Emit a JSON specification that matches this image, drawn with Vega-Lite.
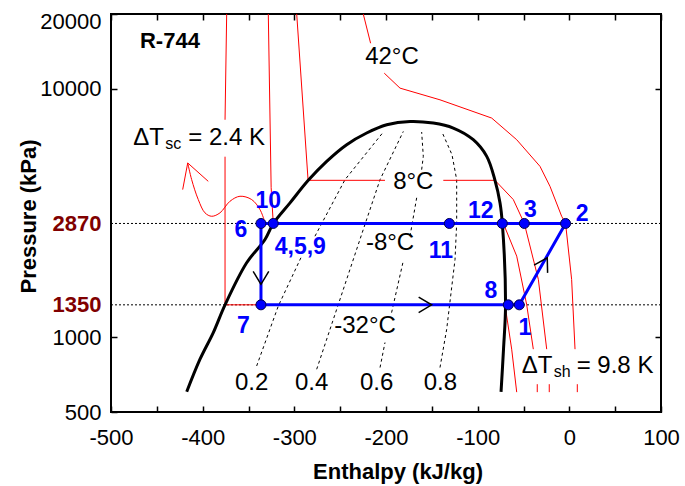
{
  "$schema": "https://vega.github.io/schema/vega-lite/v6.json",
  "width": 550,
  "height": 398,
  "autosize": {"type": "none"},
  "padding": {"left": 111, "top": 14, "right": 24, "bottom": 74},
  "background": "white",
  "config": {
    "font": "Liberation Sans",
    "view": {"stroke": "black", "strokeWidth": 2},
    "axis": {"grid": false, "domain": false}
  },
  "resolve": {"axis": {"x": "independent", "y": "independent"}},
  "datasets": {
    "refs": [{"P": 2870}, {"P": 1350}],
    "quality": [
      {"seg": "x02a", "o": 1, "h": -341.1, "P": 766},
      {"seg": "x02a", "o": 2, "h": -317.5, "P": 1335},
      {"seg": "x02a", "o": 3, "h": -292.0, "P": 2120},
      {"seg": "x02b", "o": 1, "h": -277.5, "P": 2550},
      {"seg": "x02b", "o": 2, "h": -244.7, "P": 4308},
      {"seg": "x02b", "o": 3, "h": -202.9, "P": 6698},
      {"seg": "x04", "o": 1, "h": -275.6, "P": 743},
      {"seg": "x04", "o": 2, "h": -253.8, "P": 1295},
      {"seg": "x04", "o": 3, "h": -224.8, "P": 2713},
      {"seg": "x04", "o": 4, "h": -206.5, "P": 4308},
      {"seg": "x04", "o": 5, "h": -181.1, "P": 6735},
      {"seg": "x06a", "o": 1, "h": -206.5, "P": 755},
      {"seg": "x06a", "o": 2, "h": -201.1, "P": 952},
      {"seg": "x06b", "o": 1, "h": -193.9, "P": 1256},
      {"seg": "x06b", "o": 2, "h": -181.2, "P": 2024},
      {"seg": "x06c", "o": 1, "h": -173.8, "P": 2550},
      {"seg": "x06c", "o": 2, "h": -166.5, "P": 3648},
      {"seg": "x06d", "o": 1, "h": -161.1, "P": 4726},
      {"seg": "x06d", "o": 2, "h": -159.3, "P": 5344},
      {"seg": "x06d", "o": 3, "h": -161.1, "P": 6698},
      {"seg": "x08", "o": 1, "h": -141.1, "P": 755},
      {"seg": "x08", "o": 2, "h": -133.8, "P": 1076},
      {"seg": "x08", "o": 3, "h": -124.7, "P": 2056},
      {"seg": "x08", "o": 4, "h": -122.9, "P": 2870},
      {"seg": "x08", "o": 5, "h": -122.9, "P": 4308},
      {"seg": "x08", "o": 6, "h": -128.0, "P": 5428},
      {"seg": "x08", "o": 7, "h": -139.2, "P": 6735}
    ],
    "iso": [
      {"seg": "m32a", "o": 1, "h": -373.8, "P": 20000},
      {"seg": "m32a", "o": 2, "h": -375.6, "P": 7505},
      {"seg": "m32b", "o": 1, "h": -375.6, "P": 5329},
      {"seg": "m32b", "o": 2, "h": -375.6, "P": 1350},
      {"seg": "m32b", "o": 3, "h": -70.2, "P": 1350},
      {"seg": "m32b", "o": 4, "h": -62.9, "P": 895},
      {"seg": "m32b", "o": 5, "h": -57.4, "P": 601},
      {"seg": "m8a", "o": 1, "h": -328.4, "P": 20000},
      {"seg": "m8a", "o": 2, "h": -325.3, "P": 4000},
      {"seg": "m8a", "o": 3, "h": -323.0, "P": 2870},
      {"seg": "m8a", "o": 4, "h": -72.0, "P": 2870},
      {"seg": "m8a", "o": 5, "h": -57.4, "P": 2120},
      {"seg": "m8a", "o": 6, "h": -46.5, "P": 1350},
      {"seg": "m8a", "o": 7, "h": -39.3, "P": 895},
      {"seg": "m8b", "o": 1, "h": -35.0, "P": 647},
      {"seg": "m8b", "o": 2, "h": -35.0, "P": 601},
      {"seg": "p8a", "o": 1, "h": -297.4, "P": 20000},
      {"seg": "p8a", "o": 2, "h": -285.0, "P": 4281},
      {"seg": "p8a", "o": 3, "h": -201.1, "P": 4281},
      {"seg": "p8b", "o": 1, "h": -137.5, "P": 4281},
      {"seg": "p8b", "o": 2, "h": -81.1, "P": 4281},
      {"seg": "p8b", "o": 3, "h": -61.1, "P": 3581},
      {"seg": "p8b", "o": 4, "h": -49.1, "P": 2870},
      {"seg": "p8b", "o": 5, "h": -33.8, "P": 1709},
      {"seg": "p8b", "o": 6, "h": -24.7, "P": 895},
      {"seg": "p8c", "o": 1, "h": -21.9, "P": 647},
      {"seg": "p8c", "o": 2, "h": -21.9, "P": 601},
      {"seg": "p42a", "o": 1, "h": -224.8, "P": 20000},
      {"seg": "p42a", "o": 2, "h": -216.8, "P": 15252},
      {"seg": "p42b", "o": 1, "h": -201.9, "P": 11558},
      {"seg": "p42b", "o": 2, "h": -184.7, "P": 10060},
      {"seg": "p42b", "o": 3, "h": -141.1, "P": 9028},
      {"seg": "p42b", "o": 4, "h": -84.7, "P": 7623},
      {"seg": "p42b", "o": 5, "h": -57.4, "P": 6237},
      {"seg": "p42b", "o": 6, "h": -32.0, "P": 4872},
      {"seg": "p42b", "o": 7, "h": -21.1, "P": 4049},
      {"seg": "p42b", "o": 8, "h": -8.4, "P": 3069},
      {"seg": "p42b", "o": 9, "h": -4.1, "P": 2870},
      {"seg": "p42b", "o": 10, "h": 2.5, "P": 1709},
      {"seg": "p42b", "o": 11, "h": 6.2, "P": 895},
      {"seg": "p42c", "o": 1, "h": 8.7, "P": 647},
      {"seg": "p42c", "o": 2, "h": 8.7, "P": 601},
      {"seg": "head", "o": 1, "h": -421.8, "P": 3928},
      {"seg": "head", "o": 2, "h": -416.3, "P": 5028},
      {"seg": "head", "o": 3, "h": -393.9, "P": 4241}
    ],
    "scurve": [
      {"o": 1, "h": -416.3, "P": 5028},
      {"o": 2, "h": -412.0, "P": 4308},
      {"o": 3, "h": -404.8, "P": 3581},
      {"o": 4, "h": -397.5, "P": 3167},
      {"o": 5, "h": -390.1, "P": 3068},
      {"o": 6, "h": -381.1, "P": 3167},
      {"o": 7, "h": -370.2, "P": 3526},
      {"o": 8, "h": -359.3, "P": 3693},
      {"o": 9, "h": -346.5, "P": 3581},
      {"o": 10, "h": -337.5, "P": 3265},
      {"o": 11, "h": -333.1, "P": 2977}
    ],
    "dome": [
      {"o": 1, "h": -417.4, "P": 603},
      {"o": 2, "h": -402.9, "P": 815.5},
      {"o": 3, "h": -388.4, "P": 1044},
      {"o": 4, "h": -375.6, "P": 1350},
      {"o": 5, "h": -352.0, "P": 1994},
      {"o": 6, "h": -332.0, "P": 2474},
      {"o": 7, "h": -322.9, "P": 2870},
      {"o": 8, "h": -304.7, "P": 3473},
      {"o": 9, "h": -284.8, "P": 4281},
      {"o": 10, "h": -264.7, "P": 5103},
      {"o": 11, "h": -242.9, "P": 5956},
      {"o": 12, "h": -221.1, "P": 6636},
      {"o": 13, "h": -199.2, "P": 7164},
      {"o": 14, "h": -173.8, "P": 7388},
      {"o": 15, "h": -148.4, "P": 7278},
      {"o": 16, "h": -126.6, "P": 6950},
      {"o": 17, "h": -104.8, "P": 6237},
      {"o": 18, "h": -90.1, "P": 5344},
      {"o": 19, "h": -81.1, "P": 4281},
      {"o": 20, "h": -75.6, "P": 3473},
      {"o": 21, "h": -73.1, "P": 2870},
      {"o": 22, "h": -69.6, "P": 1350},
      {"o": 23, "h": -71.8, "P": 895},
      {"o": 24, "h": -74.5, "P": 603}
    ],
    "cycle": [
      {"o": 1, "h": -4.1, "P": 2870},
      {"o": 2, "h": -336.4, "P": 2870},
      {"o": 3, "h": -336.4, "P": 1350},
      {"o": 4, "h": -54.6, "P": 1350},
      {"o": 5, "h": -4.1, "P": 2870}
    ],
    "points": [
      {"id": "6", "h": -336.4, "P": 2870},
      {"id": "10", "h": -323.0, "P": 2870},
      {"id": "11", "h": -130.9, "P": 2870},
      {"id": "12", "h": -73.1, "P": 2870},
      {"id": "3", "h": -49.1, "P": 2870},
      {"id": "2", "h": -4.1, "P": 2870},
      {"id": "7", "h": -336.4, "P": 1350},
      {"id": "8", "h": -66.6, "P": 1350},
      {"id": "1", "h": -54.6, "P": 1350}
    ],
    "arrows": [
      {"dir": "down", "h": -336.4, "P": 1632},
      {"dir": "right", "h": -150.2, "P": 1350},
      {"dir": "up", "h": -24.1, "P": 2089}
    ],
    "bluelabels": [
      {"t": "10", "h": -328.4, "P": 3526},
      {"t": "6", "h": -358.4, "P": 2713},
      {"t": "4,5,9", "h": -293.5, "P": 2312},
      {"t": "7", "h": -355.7, "P": 1110},
      {"t": "11", "h": -140.2, "P": 2220},
      {"t": "12", "h": -96.6, "P": 3214},
      {"t": "3", "h": -42.4, "P": 3265},
      {"t": "2", "h": 14.0, "P": 3138},
      {"t": "8", "h": -85.7, "P": 1533},
      {"t": "1", "h": -48.4, "P": 1094}
    ],
    "notes": [
      {"t": "42°C", "h": -193.5, "P": 13375},
      {"t": "8°C", "h": -170.2, "P": 4202},
      {"t": "-8°C", "h": -195.6, "P": 2384},
      {"t": "-32°C", "h": -222.9, "P": 1110},
      {"t": "0.2", "h": -346.5, "P": 653},
      {"t": "0.4", "h": -281.1, "P": 653},
      {"t": "0.6", "h": -210.2, "P": 653},
      {"t": "0.8", "h": -140.7, "P": 653}
    ],
    "title": [{"t": "R-744", "h": -468.4, "P": 15540}],
    "dT": [
      {"part": "main", "t": "ΔT", "h": -475.7, "P": 5956},
      {"part": "sub", "t": "sc", "h": -475.7, "P": 5956},
      {"part": "rest", "t": "= 2.4 K", "h": -475.7, "P": 5956},
      {"part": "main", "t": "ΔT", "h": -52.0, "P": 720},
      {"part": "sub", "t": "sh", "h": -52.0, "P": 720},
      {"part": "rest", "t": "= 9.8 K", "h": -52.0, "P": 720}
    ]
  },
  "layer": [
    {
      "data": {"name": "refs"},
      "mark": {"type": "rule", "color": "black", "strokeWidth": 1, "strokeDash": [2, 2]},
      "encoding": {
        "y": {"field": "P", "type": "quantitative", "scale": {"type": "log", "domain": [500, 20000], "nice": false}, "axis": null}
      }
    },
    {
      "data": {"name": "quality"},
      "mark": {"type": "line", "color": "black", "strokeWidth": 1, "strokeDash": [3, 3], "clip": true},
      "encoding": {
        "x": {"field": "h", "type": "quantitative", "scale": {"domain": [-500, 100], "nice": false, "zero": false},
          "axis": {"orient": "top", "values": [-500, -450, -400, -350, -300, -250, -200, -150, -100, -50, 0, 50, 100], "labels": false, "tickSize": -6, "tickWidth": 1.5, "tickColor": "black", "title": null, "domain": false, "grid": false}},
        "y": {"field": "P", "type": "quantitative", "scale": {"type": "log", "domain": [500, 20000], "nice": false},
          "axis": {"orient": "right", "values": [1000, 10000], "labels": false, "tickSize": -6, "tickWidth": 1.5, "tickColor": "black", "title": null, "domain": false, "grid": false}},
        "detail": {"field": "seg"},
        "order": {"field": "o", "type": "quantitative"}
      }
    },
    {
      "data": {"name": "iso"},
      "mark": {"type": "line", "color": "#ff0000", "strokeWidth": 1, "clip": true},
      "encoding": {
        "x": {"field": "h", "type": "quantitative", "axis": null},
        "y": {"field": "P", "type": "quantitative", "axis": null},
        "detail": {"field": "seg"},
        "order": {"field": "o", "type": "quantitative"}
      }
    },
    {
      "data": {"name": "scurve"},
      "mark": {"type": "line", "color": "#ff0000", "strokeWidth": 1, "interpolate": "catmull-rom", "clip": true},
      "encoding": {
        "x": {"field": "h", "type": "quantitative", "axis": null},
        "y": {"field": "P", "type": "quantitative", "axis": null},
        "order": {"field": "o", "type": "quantitative"}
      }
    },
    {
      "data": {"name": "dome"},
      "mark": {"type": "line", "color": "black", "strokeWidth": 3, "interpolate": "catmull-rom", "clip": true},
      "encoding": {
        "x": {"field": "h", "type": "quantitative", "scale": {"domain": [-500, 100], "nice": false, "zero": false},
          "axis": {"orient": "bottom", "values": [-500, -450, -400, -350, -300, -250, -200, -150, -100, -50, 0, 50, 100], "labelExpr": "datum.value % 100 == 0 ? '' + datum.value : ''", "tickSize": -6, "tickWidth": 1.5, "tickColor": "black", "labelFontSize": 22, "labelColor": "black", "labelPadding": 21, "labelFlush": false, "labelOverlap": false, "labelBound": false, "title": "Enthalpy (kJ/kg)", "titleFontSize": 22, "titleFontWeight": "bold", "titleColor": "black", "titleX": 286.5, "titleY": 66, "titleBaseline": "alphabetic", "titleAlign": "center", "domain": false, "grid": false}},
        "y": {"field": "P", "type": "quantitative", "scale": {"type": "log", "domain": [500, 20000], "nice": false},
          "axis": {"orient": "left", "values": [500, 1000, 1350, 2870, 10000, 20000], "labelExpr": "'' + datum.value", "tickSize": -6, "tickWidth": 1.5, "tickColor": "black",
            "tickOpacity": {"condition": {"test": "datum.value == 1350 || datum.value == 2870", "value": 0}, "value": 1},
            "labelFontSize": 22,
            "labelColor": {"condition": {"test": "datum.value == 1350 || datum.value == 2870", "value": "#800000"}, "value": "black"},
            "labelFontWeight": {"condition": {"test": "datum.value == 1350 || datum.value == 2870", "value": "bold"}, "value": "normal"},
            "labelOffset": {"condition": {"test": "datum.value == 20000", "value": 7}, "value": 0},
            "labelPadding": 16, "labelFlush": false, "labelOverlap": false, "labelBound": false,
            "title": "Pressure (kPa)", "titleFontSize": 22, "titleFontWeight": "bold", "titleColor": "black", "titleX": -76, "titleY": 202, "titleAngle": -90, "titleAlign": "center", "titleBaseline": "alphabetic", "domain": false, "grid": false}},
        "order": {"field": "o", "type": "quantitative"}
      }
    },
    {
      "data": {"name": "cycle"},
      "mark": {"type": "line", "color": "#0000ff", "strokeWidth": 3, "clip": true},
      "encoding": {
        "x": {"field": "h", "type": "quantitative", "axis": null},
        "y": {"field": "P", "type": "quantitative", "axis": null},
        "order": {"field": "o", "type": "quantitative"}
      }
    },
    {
      "data": {"name": "arrows"},
      "transform": [{"filter": "datum.dir == 'down'"}],
      "mark": {"type": "point", "shape": "M-1,-0.6L0,0L-1,0.6", "filled": false, "color": "black", "strokeWidth": 1.5, "size": 676, "angle": 90, "opacity": 1},
      "encoding": {
        "x": {"field": "h", "type": "quantitative", "axis": null},
        "y": {"field": "P", "type": "quantitative", "axis": null}
      }
    },
    {
      "data": {"name": "arrows"},
      "transform": [{"filter": "datum.dir == 'right'"}],
      "mark": {"type": "point", "shape": "M-1,-0.6L0,0L-1,0.6", "filled": false, "color": "black", "strokeWidth": 1.5, "size": 676, "angle": 0, "opacity": 1},
      "encoding": {
        "x": {"field": "h", "type": "quantitative", "axis": null},
        "y": {"field": "P", "type": "quantitative", "axis": null}
      }
    },
    {
      "data": {"name": "arrows"},
      "transform": [{"filter": "datum.dir == 'up'"}],
      "mark": {"type": "point", "shape": "M-1,-0.6L0,0L-1,0.6", "filled": false, "color": "black", "strokeWidth": 1.5, "size": 676, "angle": 299.6, "opacity": 1},
      "encoding": {
        "x": {"field": "h", "type": "quantitative", "axis": null},
        "y": {"field": "P", "type": "quantitative", "axis": null}
      }
    },
    {
      "data": {"name": "points"},
      "mark": {"type": "point", "shape": "circle", "filled": true, "fill": "#0000ff", "stroke": "#00004d", "strokeWidth": 1, "size": 100, "opacity": 1},
      "encoding": {
        "x": {"field": "h", "type": "quantitative", "axis": null},
        "y": {"field": "P", "type": "quantitative", "axis": null}
      }
    },
    {
      "data": {"name": "bluelabels"},
      "mark": {"type": "text", "font": "Liberation Sans", "fontSize": 23, "fontWeight": "bold", "color": "#0000ff", "align": "center", "baseline": "middle"},
      "encoding": {
        "x": {"field": "h", "type": "quantitative", "axis": null},
        "y": {"field": "P", "type": "quantitative", "axis": null},
        "text": {"field": "t"}
      }
    },
    {
      "data": {"name": "notes"},
      "mark": {"type": "text", "font": "Liberation Sans", "fontSize": 24, "color": "black", "align": "center", "baseline": "middle"},
      "encoding": {
        "x": {"field": "h", "type": "quantitative", "axis": null},
        "y": {"field": "P", "type": "quantitative", "axis": null},
        "text": {"field": "t"}
      }
    },
    {
      "data": {"name": "title"},
      "mark": {"type": "text", "font": "Liberation Sans", "fontSize": 22, "fontWeight": "bold", "color": "black", "align": "left", "baseline": "middle"},
      "encoding": {
        "x": {"field": "h", "type": "quantitative", "axis": null},
        "y": {"field": "P", "type": "quantitative", "axis": null},
        "text": {"field": "t"}
      }
    },
    {
      "data": {"name": "dT"},
      "transform": [{"filter": "datum.part == 'main'"}],
      "mark": {"type": "text", "font": "Liberation Sans", "fontSize": 24, "color": "black", "align": "left", "baseline": "alphabetic"},
      "encoding": {
        "x": {"field": "h", "type": "quantitative", "axis": null},
        "y": {"field": "P", "type": "quantitative", "axis": null},
        "text": {"field": "t"}
      }
    },
    {
      "data": {"name": "dT"},
      "transform": [{"filter": "datum.part == 'sub'"}],
      "mark": {"type": "text", "font": "Liberation Sans", "fontSize": 16, "color": "black", "align": "left", "baseline": "alphabetic", "dx": 32, "dy": 4},
      "encoding": {
        "x": {"field": "h", "type": "quantitative", "axis": null},
        "y": {"field": "P", "type": "quantitative", "axis": null},
        "text": {"field": "t"}
      }
    },
    {
      "data": {"name": "dT"},
      "transform": [{"filter": "datum.part == 'rest'"}],
      "mark": {"type": "text", "font": "Liberation Sans", "fontSize": 24, "color": "black", "align": "left", "baseline": "alphabetic", "dx": 55},
      "encoding": {
        "x": {"field": "h", "type": "quantitative", "axis": null},
        "y": {"field": "P", "type": "quantitative", "axis": null},
        "text": {"field": "t"}
      }
    }
  ]
}
